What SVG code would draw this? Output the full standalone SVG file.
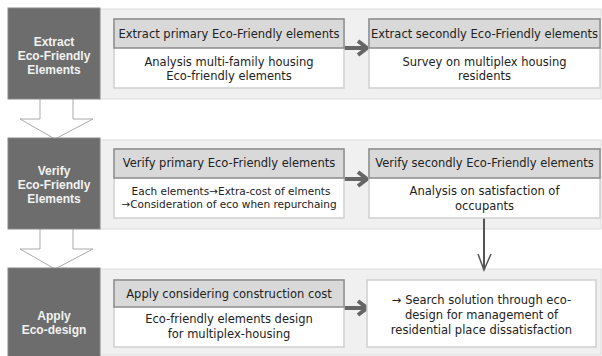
<svg xmlns="http://www.w3.org/2000/svg" width="602" height="356" viewBox="0 0 602 356">
<style>
.band{fill:#f0f0f0;stroke:#dcdcdc;stroke-width:1}
.dark{fill:#6d6d6d;stroke:#888;stroke-width:1}
.dt{font-family:"Liberation Sans",Arial,sans-serif;font-size:12px;font-weight:bold;fill:#f2f2f2;text-anchor:middle}
.hdr{fill:#d9d9d9;stroke:#8c8c8c;stroke-width:1.5}
.body{fill:#fff;stroke:#cfcfcf;stroke-width:1.5}
.t{font-family:"DejaVu Sans",Verdana,sans-serif;font-size:11.5px;fill:#222;text-anchor:middle}
.ts{font-family:"DejaVu Sans",Verdana,sans-serif;font-size:10.5px;fill:#222;text-anchor:middle}
.harrow{fill:none;stroke:#666;stroke-width:4}
.hollow{fill:#fff;stroke:#aaa;stroke-width:1}
</style>
<rect width="602" height="356" fill="#fff"/>
<rect class="band" x="100" y="9" width="501" height="90"/>
<rect class="band" x="100" y="140" width="501" height="89"/>
<rect class="band" x="100" y="269" width="501" height="86"/>

<g id="connectors">
<path class="hollow" d="M40,99 V119 H20 L55,139 L93,119 H73 V99"/>
<path class="hollow" d="M40,229 V249 H20 L55,269 L93,249 H73 V229"/>
<path class="harrow" d="M344,48 H366 M358,41 L367,48 L358,55"/>
<path class="harrow" d="M344,179 H366 M358,172 L367,179 L358,186"/>
<path class="harrow" d="M344,308 H366 M358,301 L367,308 L358,315"/>
<path fill="none" stroke="#555" stroke-width="2" d="M484,218 V270"/>
<path fill="none" stroke="#555" stroke-width="1.5" d="M478,254 L484,270 L491,254"/>
</g>

<g id="extract">
<rect class="dark" x="8" y="8" width="92" height="91"/>
<text class="dt" x="54" y="46">Extract</text>
<text class="dt" x="54" y="60">Eco-Friendly</text>
<text class="dt" x="54" y="74">Elements</text>
</g>
<g id="extract-primary">
<rect class="body" x="114" y="19" width="230" height="69"/>
<rect class="hdr" x="114" y="19" width="230" height="29"/>
<text class="t" x="229" y="38">Extract primary Eco-Friendly elements</text>
<text class="t" x="229" y="66">Analysis multi-family housing</text>
<text class="t" x="229" y="80">Eco-friendly elements</text>
</g>
<g id="extract-secondly">
<rect class="body" x="369" y="19" width="231" height="69"/>
<rect class="hdr" x="369" y="19" width="231" height="29"/>
<text class="t" x="484.5" y="38">Extract secondly Eco-Friendly elements</text>
<text class="t" x="484.5" y="66">Survey on multiplex housing</text>
<text class="t" x="484.5" y="80">residents</text>
</g>

<g id="verify">
<rect class="dark" x="8" y="138" width="92" height="91"/>
<text class="dt" x="54" y="175">Verify</text>
<text class="dt" x="54" y="189">Eco-Friendly</text>
<text class="dt" x="54" y="203">Elements</text>
</g>
<g id="verify-primary">
<rect class="body" x="114" y="149" width="230" height="69"/>
<rect class="hdr" x="114" y="149" width="230" height="29"/>
<text class="t" x="229" y="167">Verify primary Eco-Friendly elements</text>
<text class="ts" x="231" y="195">Each elements→Extra-cost of elments</text>
<text class="ts" x="229" y="208">→Consideration of eco when repurchaing</text>
</g>
<g id="verify-secondly">
<rect class="body" x="369" y="149" width="231" height="69"/>
<rect class="hdr" x="369" y="149" width="231" height="29"/>
<text class="t" x="484.5" y="167">Verify secondly Eco-Friendly elements</text>
<text class="t" x="484.5" y="195">Analysis on satisfaction of</text>
<text class="t" x="484.5" y="210">occupants</text>
</g>

<g id="apply">
<rect class="dark" x="8" y="268" width="92" height="90"/>
<text class="dt" x="54" y="320">Apply</text>
<text class="dt" x="54" y="334">Eco-design</text>
</g>
<g id="apply-cost">
<rect class="body" x="114" y="280" width="230" height="67"/>
<rect class="hdr" x="114" y="280" width="230" height="27"/>
<text class="t" x="229" y="298">Apply considering construction cost</text>
<text class="t" x="229" y="323">Eco-friendly elements design</text>
<text class="t" x="229" y="338">for multiplex-housing</text>
</g>
<g id="search-solution">
<rect class="body" x="367" y="280" width="229" height="67"/>
<text class="t" x="481.5" y="304">→ Search solution through eco-</text>
<text class="t" x="481.5" y="319">design for management of</text>
<text class="t" x="481.5" y="334">residential place dissatisfaction</text>
</g>
</svg>
